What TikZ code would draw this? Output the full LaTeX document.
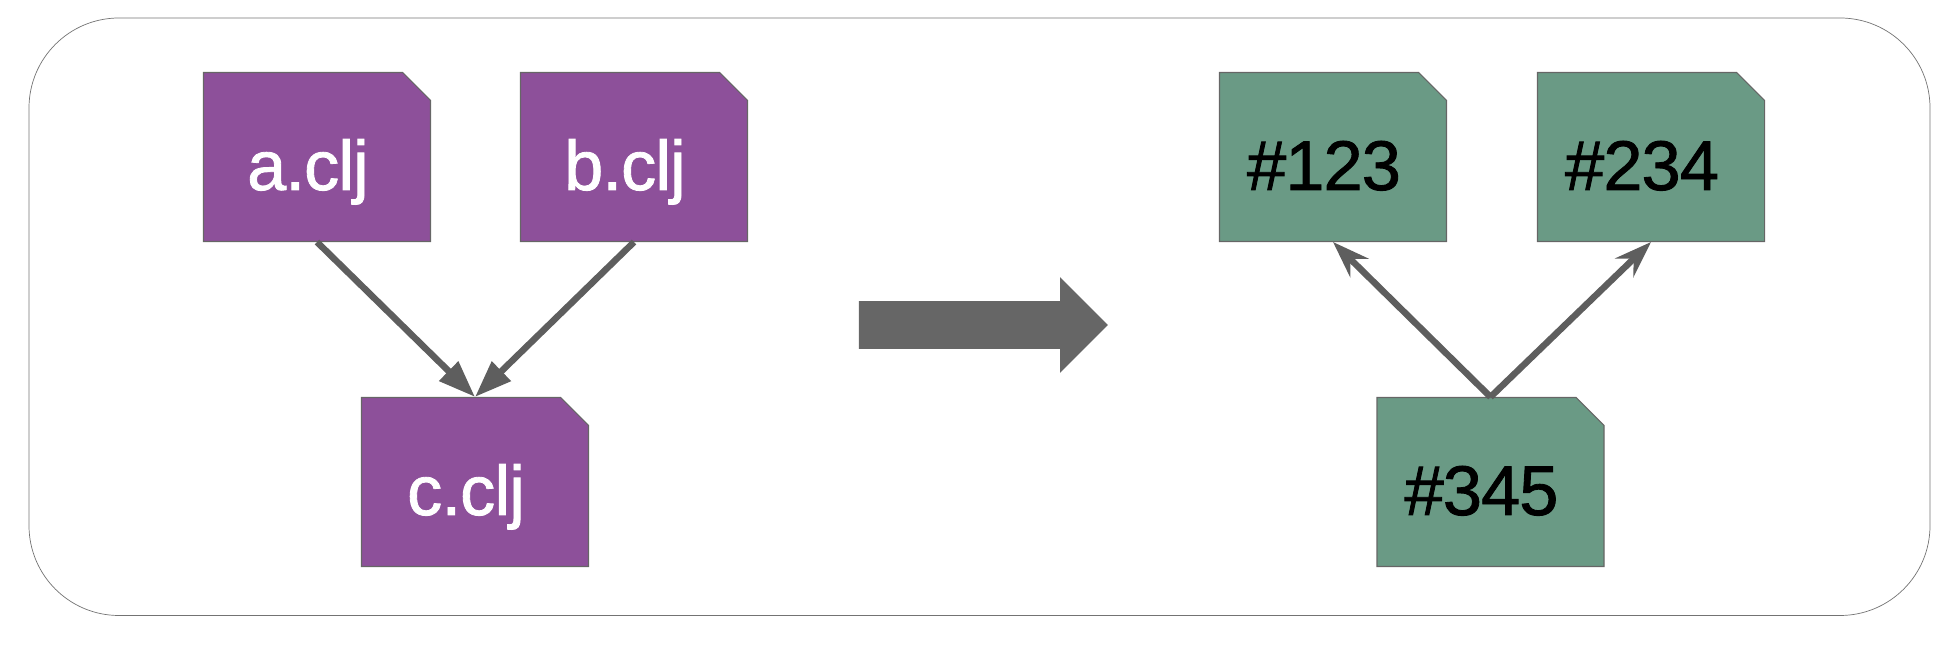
\documentclass[tikz,border=0pt]{standalone}
\usepackage{fontspec}
\setmainfont{Liberation Sans}[RawFeature={embolden=1.2},LetterSpace=-1.2]
\definecolor{cljpurple}{RGB}{141,80,154}
\definecolor{hashgreen}{RGB}{106,154,133}
\definecolor{arrowgray}{RGB}{94,94,94}
\definecolor{bigarrowgray}{RGB}{102,102,102}
\usetikzlibrary{arrows.meta,shapes.misc,shapes.arrows}

\begin{document}
\begin{tikzpicture}[
  every node/.style={font=\fontsize{40}{48}\selectfont},
  filebox/.style={shape=chamfered rectangle,chamfered rectangle corners=north east,
    chamfered rectangle xsep=0.28cm,chamfered rectangle ysep=0.28cm,
    draw=bigarrowgray,line width=0.6pt,minimum width=4.54cm,minimum height=3.38cm,inner sep=0pt,
    text height=1.32cm,text depth=0pt,execute at end node={\hspace{0.36cm}}},
  cljbox/.style={filebox,fill=cljpurple,text=white},
  hashbox/.style={filebox,fill=hashgreen,text=black},
  deparrow/.style={-{Triangle[length=0.74cm,width=0.52cm]},line width=0.13cm,arrowgray},
  refarrow/.style={-{Stealth[length=0.74cm,width=0.52cm,inset=0.26cm]},line width=0.13cm,arrowgray},
]
  \useasboundingbox (0,0) rectangle (39.12,13);

  % Frame
  \node[draw=black!55,line width=0.4pt,rounded corners=1.8cm,minimum width=38.02cm,minimum height=11.95cm] (frame) at (19.59,6.665) {};

  % Source files
  \node[cljbox] (a) at (6.34,9.86) {a.clj};
  \node[cljbox] (b) at (12.68,9.86) {b.clj};
  \node[cljbox] (c) at (9.5,3.36) {c.clj};

  % Hashes
  \node[hashbox] (h123) at (26.66,9.86) {\#123};
  \node[hashbox] (h234) at (33.02,9.86) {\#234};
  \node[hashbox] (h345) at (29.81,3.36) {\#345};

  % Big arrow
  \node[single arrow,fill=bigarrowgray,minimum height=4.98cm,minimum width=1.9cm,inner xsep=0pt,inner ysep=0.47cm,
        single arrow head extend=0.48cm,single arrow tip angle=90,single arrow head indent=0cm] (big) at (19.43,6.5) {};

  % Arrows
  \draw[deparrow] (a.south) -- (c.north);
  \draw[deparrow] (b.south) -- (c.north);
  \draw[refarrow] (h345.north) -- (h123.south);
  \draw[refarrow] (h345.north) -- (h234.south);
\end{tikzpicture}
\end{document}
